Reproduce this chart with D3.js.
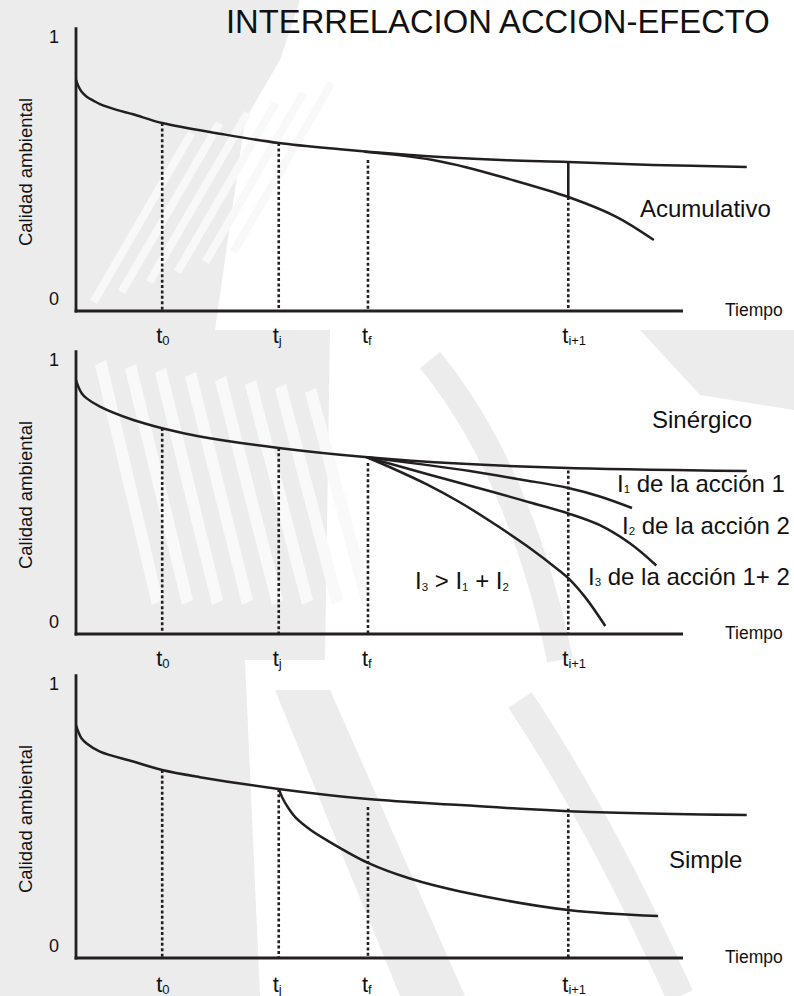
<!DOCTYPE html>
<html><head><meta charset="utf-8">
<script src="https://cdn.jsdelivr.net/npm/d3@7"></script>
<style>body{margin:0;background:#fff}svg{display:block}</style>
</head><body>
<svg id="c" width="794" height="996"></svg>
<script>
// ---------- DATA ----------
const title = "INTERRELACION ACCION-EFECTO";
const yAxisTitle = "Calidad ambiental";
const xAxisTitle = "Tiempo";
const yTickLabels = ["0", "1"];
const tickTimes = [14.2, 33.4, 48.1, 81.1];
const tickSubs = ["0", "j", "f", "i+1"];

// Panel 1 (Acumulativo)
const p1Base = [[0,0.843],[0.38,0.821],[0.93,0.800],[1.76,0.782],[2.85,0.768],[3.95,0.755],[6.7,0.734],[9.4,0.718],[14.2,0.686],[24,0.646],[33.4,0.613],[43.5,0.590],[48.1,0.581],[60,0.562],[71,0.550],[81.1,0.544],[95,0.533],[110.5,0.526]];
const p1Acum = [[47.5,0.581],[53.4,0.568],[58.8,0.551],[64.4,0.524],[70.5,0.487],[81.1,0.416],[89.1,0.343],[95.2,0.259]];
const p1DropTops = [0.686, 0.613, 0.551, 0.416];
const p1Solid = [[81.1, 0.544, 0.416]];

// Panel 2 (Sinérgico)
const p2Base = [[0,0.927],[0.38,0.903],[0.93,0.879],[1.76,0.860],[3.95,0.830],[9.44,0.781],[14.2,0.751],[20.4,0.721],[33.4,0.679],[48.1,0.645],[63,0.622],[81.1,0.606],[110.5,0.595]];
const p2I1 = [[47.9,0.645],[56.7,0.620],[64.9,0.595],[73.2,0.564],[81.1,0.533],[86.3,0.502],[91.6,0.460]];
const p2I2 = [[47.9,0.645],[57.8,0.584],[68.7,0.518],[74.8,0.480],[81.1,0.440],[86.3,0.397],[91.3,0.330],[95.6,0.250]];
const p2I3 = [[47.9,0.645],[52.2,0.604],[57.8,0.546],[63.3,0.480],[68.7,0.405],[74.3,0.321],[79.7,0.230],[81.1,0.204],[84.0,0.131],[87.2,0.029]];
const p2DropTops = [0.752, 0.679, 0.624, 0.597];

// Panel 3 (Simple)
const p3Base = [[0,0.850],[0.38,0.826],[0.93,0.801],[1.76,0.783],[3.95,0.753],[9.44,0.717],[14.2,0.686],[20.4,0.660],[33.4,0.617],[48.1,0.580],[63.3,0.558],[81.1,0.536],[110.5,0.522]];
const p3Simple = [[33.4,0.617],[34.0,0.585],[34.9,0.550],[36.2,0.512],[38.6,0.468],[41.3,0.430],[48.2,0.346],[55.0,0.290],[63.3,0.243],[81.1,0.175],[95.9,0.153]];
const p3DropTops = [0.686, 0.617, 0.551, 0.545];

const labelAcum = "Acumulativo";
const labelSin = "Sinérgico";
const labelSimple = "Simple";
const labelI1 = ["I", "1", " de la acción 1"];
const labelI2 = ["I", "2", " de la acción 2"];
const labelI3 = ["I", "3", " de la acción 1+ 2"];
const labelIneq = [["I","3"],[" > I","1"],[" + I","2"]];

// ---------- LAYOUT ----------
const svg = d3.select("#c");
const FONT = "'Liberation Sans', Arial, Helvetica, sans-serif";
const INK = "#231f20";
const x = d3.scaleLinear().domain([0, 100]).range([76, 683]);
const axisTopVal = 1.036;
const panelAxisY = [311, 634, 958];
const panelH = 274;

// background (faded photo approximation)
const bg = svg.append("g");
bg.append("rect").attr("width", 794).attr("height", 996).attr("fill", "#ffffff");
const grey = "#ececec";
const polys = [
  [[0,0],[300,0],[280,60],[245,120],[215,330],[0,330]],
  [[0,330],[330,330],[325,660],[0,660]],
  [[0,660],[245,660],[260,996],[0,996]],
  [[275,690],[330,690],[465,996],[400,996]],
  [[640,330],[794,330],[794,410],[700,395]]
];
polys.forEach(p => bg.append("path").attr("d", "M" + p.join("L") + "Z").attr("fill", grey));
d3.range(8).forEach(i => {
  const x0 = 95 + i * 30;
  bg.append("path").attr("d", `M${x0},${365 + i*4}L${x0+11},${360+i*4}L${x0+68},${600}L${x0+57},${605}Z`).attr("fill", "#f9f9f9");
});
d3.range(6).forEach(i => {
  const x0 = 90 + i * 28, y0 = 300 - i * 10;
  bg.append("path").attr("d", `M${x0},${y0}L${x0+7},${y0+4}L${x0+105},${y0-165}L${x0+98},${y0-169}Z`).attr("fill", "#f8f8f8");
});
bg.append("path").attr("d", "M430,360 Q520,470 560,660").attr("fill","none").attr("stroke", grey).attr("stroke-width", 26);
bg.append("path").attr("d", "M520,700 Q600,820 680,996").attr("fill","none").attr("stroke", grey).attr("stroke-width", 28);

// title
const tt = svg.append("text").attr("x", 226).attr("y", 33).attr("font-family", FONT)
  .attr("font-size", 32).attr("fill", "#111").text(title);
const tw = tt.node().getComputedTextLength();
tt.attr("font-size", 32 * 544 / tw);

const line = y => d3.line().x(d => x(d[0])).y(d => y(d[1])).curve(d3.curveCatmullRom.alpha(0.5));

function panel(idx, curves, dropTops, solids) {
  const ay = panelAxisY[idx];
  const y = d3.scaleLinear().domain([0, 1]).range([ay, ay - panelH]);
  const g = svg.append("g");

  tickTimes.forEach((t, i) => {
    g.append("line").attr("x1", x(t)).attr("x2", x(t)).attr("y1", y(dropTops[i])).attr("y2", y(0))
      .attr("stroke", INK).attr("stroke-width", 2.6).attr("stroke-dasharray", "3,2.4");
  });
  (solids || []).forEach(s => {
    g.append("line").attr("x1", x(s[0])).attr("x2", x(s[0])).attr("y1", y(s[1])).attr("y2", y(s[2]))
      .attr("stroke", INK).attr("stroke-width", 2.6);
  });

  curves.forEach(c => {
    g.append("path").datum(c).attr("d", line(y)).attr("fill", "none")
      .attr("stroke", INK).attr("stroke-width", 2.5).attr("stroke-linecap", "butt");
  });

  g.append("line").attr("x1", x(0)).attr("x2", x(0)).attr("y1", y(axisTopVal)).attr("y2", y(0) + 1.4)
    .attr("stroke", INK).attr("stroke-width", 2.8);
  g.append("line").attr("x1", x(0) - 1.4).attr("x2", x(100)).attr("y1", y(0)).attr("y2", y(0))
    .attr("stroke", INK).attr("stroke-width", 2.8);

  g.append("text").attr("x", 49).attr("y", y(0) - 6).attr("font-family", FONT).attr("font-size", 18).attr("fill", "#111").text(yTickLabels[0]);
  g.append("text").attr("x", 49).attr("y", y(1) + 6).attr("font-family", FONT).attr("font-size", 18).attr("fill", "#111").text(yTickLabels[1]);

  g.append("text").attr("transform", `translate(32,${ay - 139}) rotate(-90)`).attr("text-anchor", "middle")
    .attr("font-family", FONT).attr("font-size", 18.5).attr("fill", "#111").text(yAxisTitle);

  g.append("text").attr("x", 725).attr("y", ay + 5).attr("font-family", FONT)
    .attr("font-size", 17.5).attr("fill", "#111").text(xAxisTitle);

  tickTimes.forEach((t, i) => {
    const tx = g.append("text").attr("x", x(t) - 6).attr("y", ay + (idx === 2 ? 34 : 32))
      .attr("font-family", FONT).attr("font-size", 22).attr("fill", "#111");
    tx.append("tspan").text("t");
    tx.append("tspan").attr("font-size", 13).attr("dy", 2).text(tickSubs[i]);
  });
  return {g, y};
}

panel(0, [p1Base, p1Acum], p1DropTops, p1Solid);
panel(1, [p2Base, p2I1, p2I2, p2I3], p2DropTops);
panel(2, [p3Base, p3Simple], p3DropTops);

function label(xp, yp, txt) {
  svg.append("text").attr("x", xp).attr("y", yp).attr("font-family", FONT).attr("font-size", 24).attr("fill", "#111").text(txt);
}
label(640, 217, labelAcum);
label(652, 428, labelSin);
label(669, 868, labelSimple);

function subLabel(xp, yp, parts) {
  const t = svg.append("text").attr("x", xp).attr("y", yp).attr("font-family", FONT).attr("font-size", 24).attr("fill", "#111");
  t.append("tspan").text(parts[0]);
  t.append("tspan").attr("font-size", 11.5).attr("dy", 1).text(parts[1]);
  t.append("tspan").attr("dy", -1).text(parts[2]);
}
subLabel(617, 492, labelI1);
subLabel(622, 534, labelI2);
subLabel(588, 585, labelI3);

const ineq = svg.append("text").attr("x", 415).attr("y", 589).attr("font-family", FONT).attr("font-size", 24).attr("fill", "#111");
labelIneq.forEach((p, i) => {
  ineq.append("tspan").attr("dy", i === 0 ? 0 : -2).text(p[0]);
  ineq.append("tspan").attr("font-size", 11.5).attr("dy", 2).text(p[1]);
});
</script>
</body></html>
